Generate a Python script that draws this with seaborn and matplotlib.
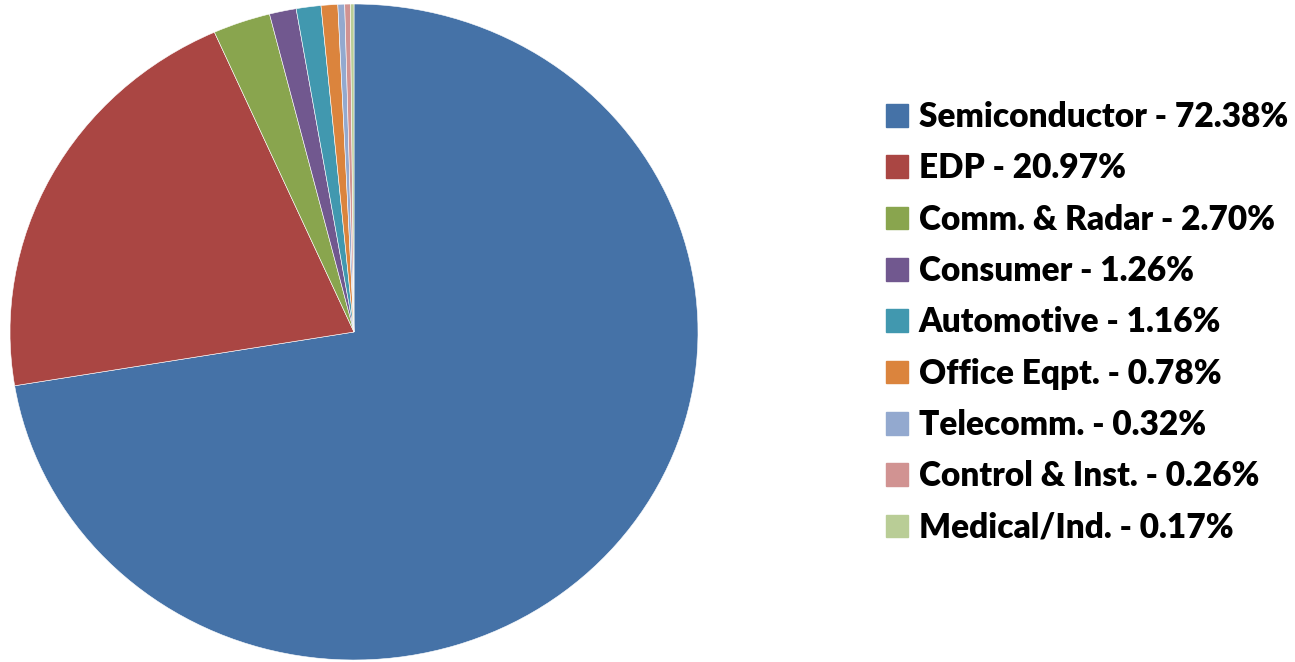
import matplotlib
matplotlib.use('Agg')
import matplotlib.pyplot as plt
import matplotlib.patches as mpatches
import seaborn as sns

# Market share by segment
segments = ['Semiconductor', 'EDP', 'Comm. & Radar', 'Consumer', 'Automotive',
            'Office Eqpt.', 'Telecomm.', 'Control & Inst.', 'Medical/Ind.']
shares = [72.38, 20.97, 2.70, 1.26, 1.16, 0.78, 0.32, 0.26, 0.17]
colors = ['#4572A7', '#AA4643', '#89A54E', '#71588F', '#4198AF',
          '#DB843D', '#93A9CF', '#D19392', '#B9CD96']

sns.set_theme(style='white')
plt.rcParams['font.family'] = ['Lato', 'DejaVu Sans']
pal = sns.color_palette(colors)

W, H = 1295, 662
fig = plt.figure(figsize=(W / 100, H / 100), dpi=100)
ax = fig.add_axes([10 / W, 2 / H, 688 / W, 656 / H])

wedges, _ = ax.pie(shares, colors=pal, startangle=90, counterclock=False,
                   radius=1, wedgeprops=dict(edgecolor='white', linewidth=0.4))
ax.set_aspect('auto')
ax.set_xlim(-1, 1)
ax.set_ylim(-1, 1)
ax.axis('off')

labels = [f'{s} - {v:.2f}%' for s, v in zip(segments, shares)]
handles = [mpatches.Patch(color=c) for c in pal]
fig.legend(handles, labels, loc='upper left', bbox_to_anchor=(886 / W, 1 - 101 / H),
           frameon=False, handlelength=0.66, handleheight=0.66,
           handletextpad=0.32, labelspacing=0.58, borderaxespad=0, borderpad=0,
           labelcolor='black', prop={'weight': 'heavy', 'size': 24})

fig.savefig('out.png', dpi=100, facecolor='white')
